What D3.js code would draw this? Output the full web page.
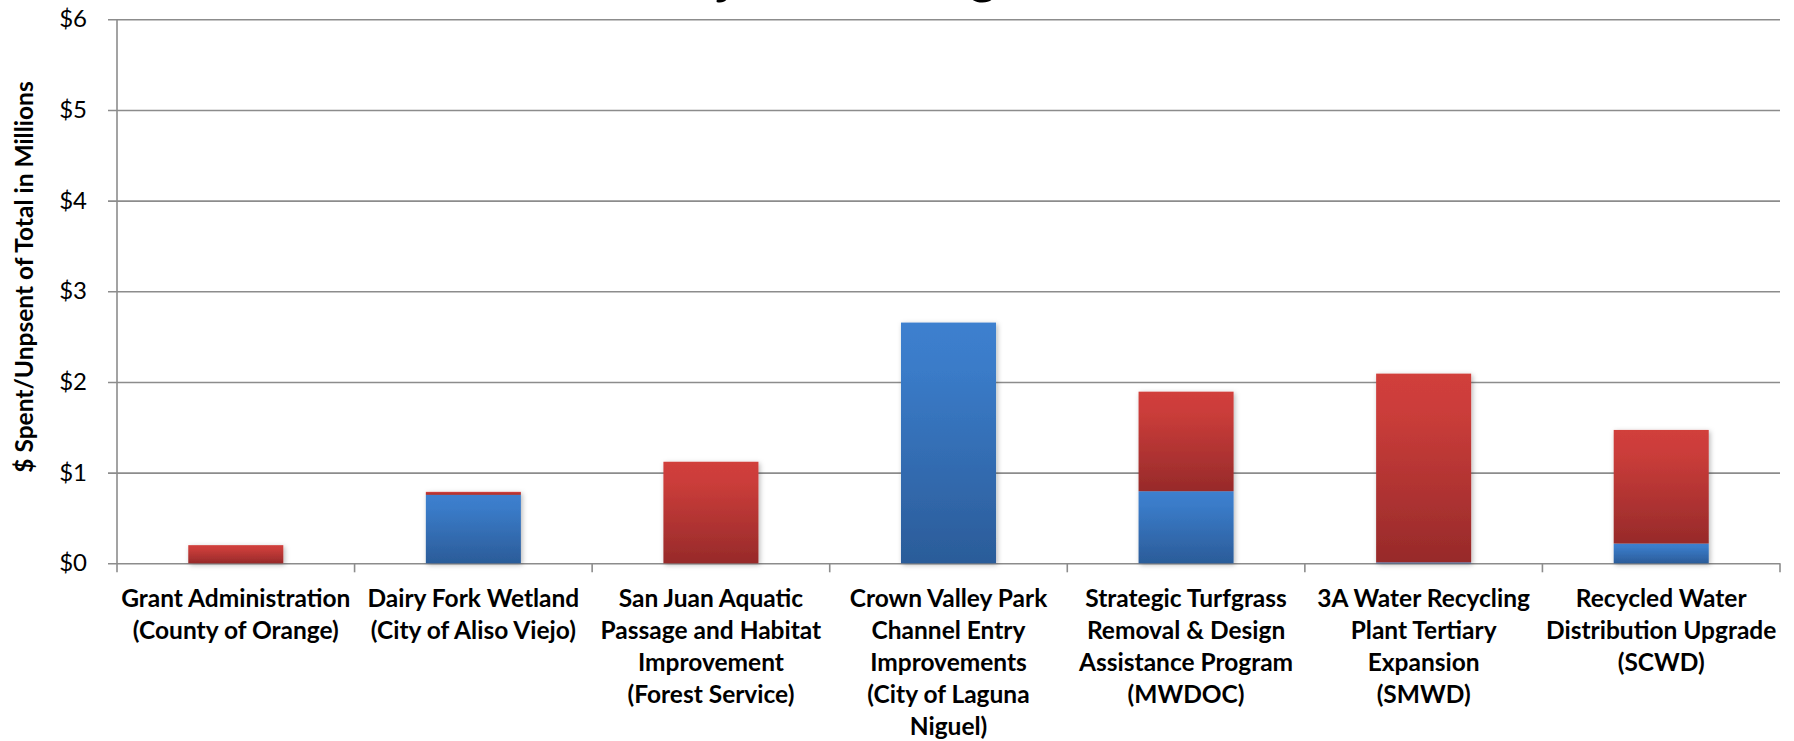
<!DOCTYPE html>
<html>
<head>
<meta charset="utf-8">
<script src="https://cdn.jsdelivr.net/npm/d3@7"></script>
<style>
  html, body { margin: 0; padding: 0; background: #ffffff; }
  svg { display: block; }
</style>
</head>
<body>
<svg id="chart" width="1794" height="741"></svg>
<script>
// ---------------- data ----------------
const categories = [
  "Grant Administration (County of Orange)",
  "Dairy Fork Wetland (City of Aliso Viejo)",
  "San Juan Aquatic Passage and Habitat Improvement (Forest Service)",
  "Crown Valley Park Channel Entry Improvements (City of Laguna Niguel)",
  "Strategic Turfgrass Removal & Design Assistance Program (MWDOC)",
  "3A Water Recycling Plant Tertiary Expansion (SMWD)",
  "Recycled Water Distribution Upgrade (SCWD)"
];
const categoryLines = [
  ["Grant Administration", "(County of Orange)"],
  ["Dairy Fork Wetland", "(City of Aliso Viejo)"],
  ["San Juan Aquatic", "Passage and Habitat", "Improvement", "(Forest Service)"],
  ["Crown Valley Park", "Channel Entry", "Improvements", "(City of Laguna", "Niguel)"],
  ["Strategic Turfgrass", "Removal & Design", "Assistance Program", "(MWDOC)"],
  ["3A Water Recycling", "Plant Tertiary", "Expansion", "(SMWD)"],
  ["Recycled Water", "Distribution Upgrade", "(SCWD)"]
];
const seriesNames = ["Spent", "Unspent"];
const spent   = [0.000, 0.755, 0.000, 2.655, 0.795, 0.010, 0.218];
const unspent = [0.200, 0.033, 1.120, 0.000, 1.098, 2.082, 1.253];
const yTicks = [0, 1, 2, 3, 4, 5, 6];
const yTickLabels = ["$0", "$1", "$2", "$3", "$4", "$5", "$6"];
const yAxisTitle = "$ Spent/Unpsent of Total in Millions";
const chartTitle = "Project Funding Status";

// ---------------- layout ----------------
const svg = d3.select("#chart");
const plot = { left: 117, right: 1780, top: 19.3, bottom: 563.3 };
const FONT = "Lato, 'Open Sans', 'DejaVu Sans', sans-serif";
const gridColor = "#8c8c8c";

const x = d3.scaleBand()
  .domain(categories)
  .range([plot.left, plot.right])
  .paddingInner(0.6)
  .paddingOuter(0.3);

const y = d3.scaleLinear()
  .domain([0, 6])
  .range([plot.bottom, plot.top]);

// defs: gradients + shadow
const defs = svg.append("defs");
const gradBlue = defs.append("linearGradient").attr("id", "gBlue")
  .attr("x1", 0).attr("y1", 0).attr("x2", 0).attr("y2", 1);
gradBlue.append("stop").attr("offset", "0%").attr("stop-color", "#3d80cf");
gradBlue.append("stop").attr("offset", "20%").attr("stop-color", "#3a7bc8");
gradBlue.append("stop").attr("offset", "100%").attr("stop-color", "#2b5c99");
const gradRed = defs.append("linearGradient").attr("id", "gRed")
  .attr("x1", 0).attr("y1", 0).attr("x2", 0).attr("y2", 1);
gradRed.append("stop").attr("offset", "0%").attr("stop-color", "#d13f3b");
gradRed.append("stop").attr("offset", "20%").attr("stop-color", "#cb3d3a");
gradRed.append("stop").attr("offset", "100%").attr("stop-color", "#972a2a");
const shadow = defs.append("filter").attr("id", "shadow")
  .attr("x", "-20%").attr("y", "-20%").attr("width", "140%").attr("height", "140%");
shadow.append("feDropShadow").attr("dx", 1.5).attr("dy", 1.5)
  .attr("stdDeviation", 2.5).attr("flood-color", "#000").attr("flood-opacity", 0.28);

// title (mostly above the visible area, as in the reference)
const title = svg.append("text")
  .attr("font-family", FONT).attr("font-weight", 700)
  .attr("font-size", 44).attr("fill", "#000")
  .attr("x", 0).attr("y", -6)
  .text(chartTitle);
(function placeTitle() {
  const node = title.node();
  const jIdx = chartTitle.indexOf("j");
  const gIdx = chartTitle.lastIndexOf("g");
  const cx = i => (node.getStartPositionOfChar(i).x + node.getEndPositionOfChar(i).x) / 2;
  const d = cx(gIdx) - cx(jIdx);
  const fs = 44 * 258 / d;
  title.attr("font-size", fs);
  const jx = cx(jIdx);
  title.attr("x", 725 - jx).attr("y", 3 - 0.2 * fs);
})();

// y gridlines + labels
const yAxis = d3.axisLeft(y)
  .tickValues(yTicks)
  .tickFormat((d, i) => yTickLabels[i])
  .tickSizeInner(-(plot.right - plot.left))
  .tickSizeOuter(0)
  .tickPadding(30);
const gy = svg.append("g").attr("transform", `translate(${plot.left},0)`).call(yAxis);
gy.select(".domain").remove();
gy.selectAll(".tick line")
  .attr("x1", -9)
  .attr("stroke", gridColor).attr("stroke-width", 1.6);
gy.selectAll(".tick text")
  .attr("font-family", FONT).attr("font-size", 24).attr("fill", "#000");

// y axis line
svg.append("line")
  .attr("x1", plot.left).attr("x2", plot.left)
  .attr("y1", y(6)).attr("y2", y(0))
  .attr("stroke", gridColor).attr("stroke-width", 1.6);

// x axis boundary ticks
const boundaries = d3.range(categories.length + 1).map(i => plot.left + i * x.step());
svg.append("g").selectAll("line").data(boundaries).join("line")
  .attr("x1", d => d).attr("x2", d => d)
  .attr("y1", y(0)).attr("y2", y(0) + 9)
  .attr("stroke", gridColor).attr("stroke-width", 1.6);

// stacked bars
const rows = categories.map((c, i) => ({ cat: c, Spent: spent[i], Unspent: unspent[i] }));
const stack = d3.stack().keys(seriesNames)(rows);
const fills = { Spent: "url(#gBlue)", Unspent: "url(#gRed)" };
svg.append("g").attr("filter", "url(#shadow)")
  .selectAll("g").data(stack).join("g")
  .attr("fill", s => fills[s.key])
  .selectAll("rect").data(s => s).join("rect")
  .attr("x", d => x(d.data.cat))
  .attr("width", x.bandwidth())
  .attr("y", d => y(d[1]))
  .attr("height", d => Math.max(0, y(d[0]) - y(d[1])));

// category labels
const lab = svg.append("g");
categories.forEach((c, i) => {
  const t = lab.append("text")
    .attr("font-family", FONT).attr("font-weight", 700).attr("font-size", 24.5)
    .attr("fill", "#000").attr("text-anchor", "middle");
  categoryLines[i].forEach((ln, k) => {
    t.append("tspan")
      .attr("x", x(c) + x.bandwidth() / 2)
      .attr("y", 606.5 + k * 32)
      .text(ln);
  });
});

// y axis title
svg.append("text")
  .attr("font-family", FONT).attr("font-weight", 700).attr("font-size", 24.5)
  .attr("fill", "#000").attr("text-anchor", "middle")
  .attr("transform", "translate(33,277) rotate(-90)")
  .text(yAxisTitle);
</script>
</body>
</html>
